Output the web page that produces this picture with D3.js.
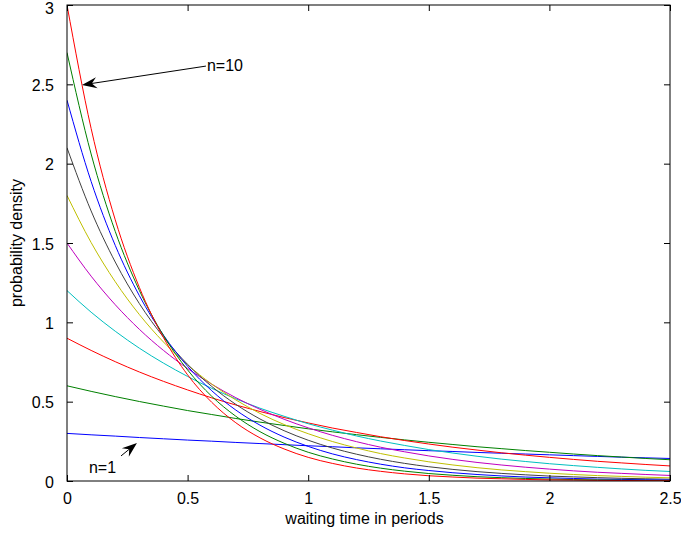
<!DOCTYPE html>
<html>
<head>
<meta charset="utf-8">
<script src="https://cdn.jsdelivr.net/npm/d3@7"></script>
<style>
  body { margin: 0; background: #fff; }
  text { font-family: "Liberation Sans", Arial, sans-serif; fill: #000; }
</style>
</head>
<body>
<svg id="chart" width="681" height="533"></svg>
<script>
// waiting time samples (periods)
var times = [0,0.1,0.2,0.3,0.4,0.5,0.6,0.7,0.8,0.9,1.0,1.1,1.2,1.3,1.4,1.5,1.6,1.7,1.8,1.9,2.0,2.1,2.2,2.3,2.4,2.5]

// density values, one list per curve
var n1 = [0.300,0.291,0.283,0.274,0.266,0.258,0.251,0.243,0.236,0.229,0.222,0.216,0.209,0.203,0.197,0.191,0.186,0.180,0.175,0.170,0.165,0.160,0.155,0.150,0.146,0.142]
var n2 = [0.600,0.565,0.532,0.501,0.472,0.444,0.419,0.394,0.371,0.350,0.329,0.310,0.292,0.275,0.259,0.244,0.230,0.216,0.204,0.192,0.181,0.170,0.160,0.151,0.142,0.134]
var n3 = [0.900,0.823,0.752,0.687,0.628,0.574,0.524,0.479,0.438,0.400,0.366,0.334,0.306,0.279,0.255,0.233,0.213,0.195,0.178,0.163,0.149,0.136,0.124,0.114,0.104,0.095]
var n4 = [1.200,1.064,0.944,0.837,0.743,0.659,0.584,0.518,0.459,0.408,0.361,0.321,0.284,0.252,0.224,0.198,0.176,0.156,0.138,0.123,0.109,0.097,0.086,0.076,0.067,0.060]
var n5 = [1.500,1.291,1.111,0.956,0.823,0.709,0.610,0.525,0.452,0.389,0.335,0.288,0.248,0.213,0.184,0.158,0.136,0.117,0.101,0.087,0.075,0.064,0.055,0.048,0.041,0.035]
var n6 = [1.800,1.503,1.256,1.049,0.876,0.732,0.611,0.511,0.426,0.356,0.298,0.249,0.208,0.173,0.145,0.121,0.101,0.084,0.070,0.059,0.049,0.041,0.034,0.029,0.024,0.020]
var n7 = [2.100,1.702,1.380,1.118,0.907,0.735,0.596,0.483,0.391,0.317,0.257,0.208,0.169,0.137,0.111,0.090,0.073,0.059,0.048,0.039,0.031,0.026,0.021,0.017,0.014,0.011]
var n8 = [2.400,1.888,1.485,1.168,0.919,0.723,0.569,0.447,0.352,0.277,0.218,0.171,0.135,0.106,0.083,0.066,0.052,0.041,0.032,0.025,0.020,0.016,0.012,0.010,0.008,0.006]
var n9 = [2.700,2.061,1.573,1.201,0.917,0.700,0.534,0.408,0.311,0.238,0.181,0.139,0.106,0.081,0.062,0.047,0.036,0.027,0.021,0.016,0.012,0.009,0.007,0.005,0.004,0.003]
var n10 = [3.000,2.222,1.646,1.220,0.904,0.669,0.496,0.367,0.272,0.202,0.149,0.111,0.082,0.061,0.045,0.033,0.025,0.018,0.014,0.010,0.007,0.006,0.004,0.003,0.002,0.002]

var series = [n1,n2,n3,n4,n5,n6,n7,n8,n9,n10]

// tick labels
var xTicks = [0,0.5,1,1.5,2,2.5]
var yTicks = [0,0.5,1,1.5,2,2.5,3]

// matlab default line colour order
var colors = ["#0000ff","#008000","#ff0000","#00bfbf","#bf00bf","#bfbf00","#404040"]

var fontSize = "16px"

var margin = {top: 5, right: 11, bottom: 52, left: 67}
var W = 681, H = 533
var w = W - margin.left - margin.right
var h = H - margin.top - margin.bottom

var svg = d3.select("#chart")
var g = svg.append("g").attr("transform", "translate(" + margin.left + "," + margin.top + ")")

var x = d3.scaleLinear().domain([0, 2.5]).range([0, w])
var y = d3.scaleLinear().domain([0, 3]).range([h, 0])

g.append("clipPath").attr("id", "plotClip")
    .append("rect").attr("width", w).attr("height", h)

// curves
var line = d3.line()
    .x((d,i) => x(times[i]))
    .y(d => y(d))
    .curve(d3.curveMonotoneX)

g.append("g")
    .attr("clip-path", "url(#plotClip)")
    .selectAll("path")
    .data(series)
    .enter()
    .append("path")
    .attr("d", d => line(d))
    .attr("fill", "none")
    .attr("stroke", (d,i) => colors[i % colors.length])
    .attr("stroke-width", 1)

// axes, ticks pointing inward on all four sides
var tickLen = 6
function styleAxis(sel) {
    sel.select(".domain").remove()
    sel.selectAll("line").attr("stroke", "#000")
    sel.selectAll("text").style("font-size", fontSize).style("font-family", "Liberation Sans, Arial, sans-serif")
}

g.append("g")
    .attr("transform", "translate(0," + h + ")")
    .call(d3.axisBottom(x).tickValues(xTicks).tickSize(-tickLen).tickPadding(12).tickFormat(d3.format("")))
    .call(styleAxis)

g.append("g")
    .call(d3.axisTop(x).tickValues(xTicks).tickSize(-tickLen).tickFormat(""))
    .call(styleAxis)

var yAxisG = g.append("g")
    .call(d3.axisLeft(y).tickValues(yTicks).tickSize(-tickLen).tickPadding(13).tickFormat(d3.format("")))
    .call(styleAxis)
// labels sit a touch below their ticks, top one pushed down so it stays on the page
yAxisG.selectAll("text").attr("dy", d => d === 3 ? "0.5em" : "0.38em")

g.append("g")
    .attr("transform", "translate(" + w + ",0)")
    .call(d3.axisRight(y).tickValues(yTicks).tickSize(-tickLen).tickFormat(""))
    .call(styleAxis)

// frame
g.append("rect")
    .attr("width", w)
    .attr("height", h)
    .attr("fill", "none")
    .attr("stroke", "#000")
    .attr("stroke-width", 1)

// axis titles
g.append("text")
    .attr("x", w / 2 - 4)
    .attr("y", h + 43)
    .attr("text-anchor", "middle")
    .style("font-size", fontSize)
    .text("waiting time in periods")

g.append("text")
    .attr("transform", "translate(" + (-45) + "," + (h / 2) + ") rotate(-90)")
    .attr("text-anchor", "middle")
    .style("font-size", fontSize)
    .text("probability density")

// annotations (data coordinates)
function arrow(x0, y0, x1, y1) {
    var px0 = x(x0), py0 = y(y0), px1 = x(x1), py1 = y(y1)
    var a = Math.atan2(py1 - py0, px1 - px0)
    g.append("line")
        .attr("x1", px0).attr("y1", py0)
        .attr("x2", px1 - 8 * Math.cos(a)).attr("y2", py1 - 8 * Math.sin(a))
        .attr("stroke", "#000").attr("stroke-width", 1)
    var L = 15, hw = 5.5, notch = 10
    var pts = [[0,0],[-L,-hw],[-notch,0],[-L,hw]].map(p => [
        px1 + p[0] * Math.cos(a) - p[1] * Math.sin(a),
        py1 + p[0] * Math.sin(a) + p[1] * Math.cos(a)])
    g.append("path")
        .attr("d", "M" + pts.map(p => p.join(",")).join("L") + "Z")
        .attr("fill", "#000")
}

arrow(0.576, 2.615, 0.062, 2.496)
arrow(0.224, 0.158, 0.29, 0.24)

g.append("text")
    .attr("x", x(0.58)).attr("y", y(2.584))
    .style("font-size", fontSize)
    .text("n=10")

g.append("text")
    .attr("x", x(0.091)).attr("y", y(0.05))
    .style("font-size", fontSize)
    .text("n=1")
</script>
</body>
</html>
